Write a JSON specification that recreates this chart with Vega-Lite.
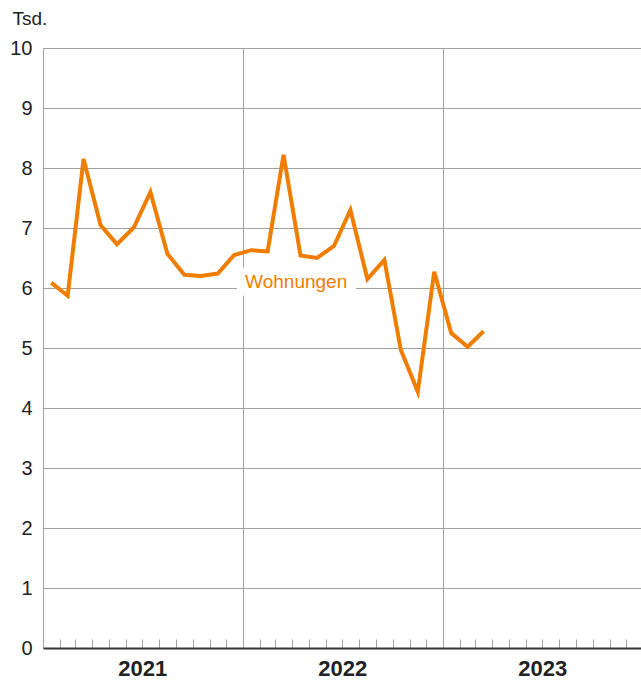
{
  "$schema": "https://vega.github.io/schema/vega-lite/v6.json",
  "width": 600,
  "height": 600,
  "autosize": "none",
  "padding": {"left": 43, "top": 48, "right": 0, "bottom": 36},
  "config": {"view": {"stroke": null}, "font": "Liberation Sans"},
  "layer": [
    {
      "data": {"values": [{"x": "2021-12-21", "x2": "2022-07-26", "y": 5.87, "y2": 6.34}]},
      "mark": {"type": "rect", "color": "white"},
      "encoding": {
        "x": {
          "field": "x", "type": "temporal",
          "scale": {"type": "utc", "domain": [{"year": 2021, "month": 1, "date": 1, "utc": true}, {"year": 2024, "month": 1, "date": 1, "utc": true}]},
          "axis": {
            "title": null,
            "domainColor": "#333333", "domainWidth": 2,
            "tickCount": {"interval": "month", "step": 1},
            "tickColor": "#a0a0a0", "tickSize": -9, "tickWidth": 1,
            "grid": true, "gridColor": "#a0a0a0", "gridWidth": 1,
            "gridOpacity": {"condition": {"test": "utcmonth(datum.value) == 0", "value": 1}, "value": 0},
            "labelExpr": "utcmonth(datum.value) == 6 ? utcFormat(datum.value, '%Y') : ''",
            "labelFontWeight": "bold", "labelFontSize": 22, "labelColor": "#222222",
            "labelPadding": 19, "labelAlign": "center", "labelOverlap": false,
            "labelFlush": false, "labelBound": false
          }
        },
        "x2": {"field": "x2"},
        "y": {
          "field": "y", "type": "quantitative",
          "scale": {"domain": [0, 10]},
          "axis": {
            "values": [0, 1, 2, 3, 4, 5, 6, 7, 8, 9, 10],
            "format": "d",
            "grid": true, "gridColor": "#a0a0a0", "gridWidth": 1,
            "ticks": false, "domainColor": "#a0a0a0", "domainWidth": 1,
            "labelFontSize": 20, "labelColor": "#222222", "labelPadding": 11,
            "title": "Tsd.", "titleAngle": 0, "titleAlign": "left", "titleBaseline": "top",
            "titleX": -31, "titleY": -39, "titleFontWeight": "normal", "titleFontSize": 19, "titleColor": "#222222"
          }
        },
        "y2": {"field": "y2"}
      }
    },
    {
      "data": {"values": [
        {"date": "2021-01-16", "value": 6.09},
        {"date": "2021-02-15", "value": 5.87},
        {"date": "2021-03-16", "value": 8.15},
        {"date": "2021-04-16", "value": 7.05},
        {"date": "2021-05-16", "value": 6.73},
        {"date": "2021-06-16", "value": 7.01},
        {"date": "2021-07-16", "value": 7.6},
        {"date": "2021-08-16", "value": 6.57},
        {"date": "2021-09-16", "value": 6.22},
        {"date": "2021-10-16", "value": 6.2},
        {"date": "2021-11-16", "value": 6.24},
        {"date": "2021-12-16", "value": 6.55},
        {"date": "2022-01-16", "value": 6.63},
        {"date": "2022-02-15", "value": 6.61},
        {"date": "2022-03-16", "value": 8.22},
        {"date": "2022-04-16", "value": 6.54},
        {"date": "2022-05-16", "value": 6.5},
        {"date": "2022-06-16", "value": 6.7},
        {"date": "2022-07-16", "value": 7.3},
        {"date": "2022-08-16", "value": 6.15},
        {"date": "2022-09-16", "value": 6.47},
        {"date": "2022-10-16", "value": 4.97},
        {"date": "2022-11-16", "value": 4.27},
        {"date": "2022-12-16", "value": 6.27},
        {"date": "2023-01-16", "value": 5.25},
        {"date": "2023-02-15", "value": 5.02},
        {"date": "2023-03-16", "value": 5.28}
      ]},
      "mark": {"type": "line", "color": "#EF7D00", "strokeWidth": 4},
      "encoding": {
        "x": {"field": "date", "type": "temporal"},
        "y": {"field": "value", "type": "quantitative"}
      }
    },
    {
      "data": {"values": [{"x": "2022-04-08", "y": 6.1, "label": "Wohnungen"}]},
      "mark": {"type": "text", "color": "#EF7D00", "fontSize": 19, "align": "center", "baseline": "middle"},
      "encoding": {
        "x": {"field": "x", "type": "temporal"},
        "y": {"field": "y", "type": "quantitative"},
        "text": {"field": "label"}
      }
    }
  ]
}
